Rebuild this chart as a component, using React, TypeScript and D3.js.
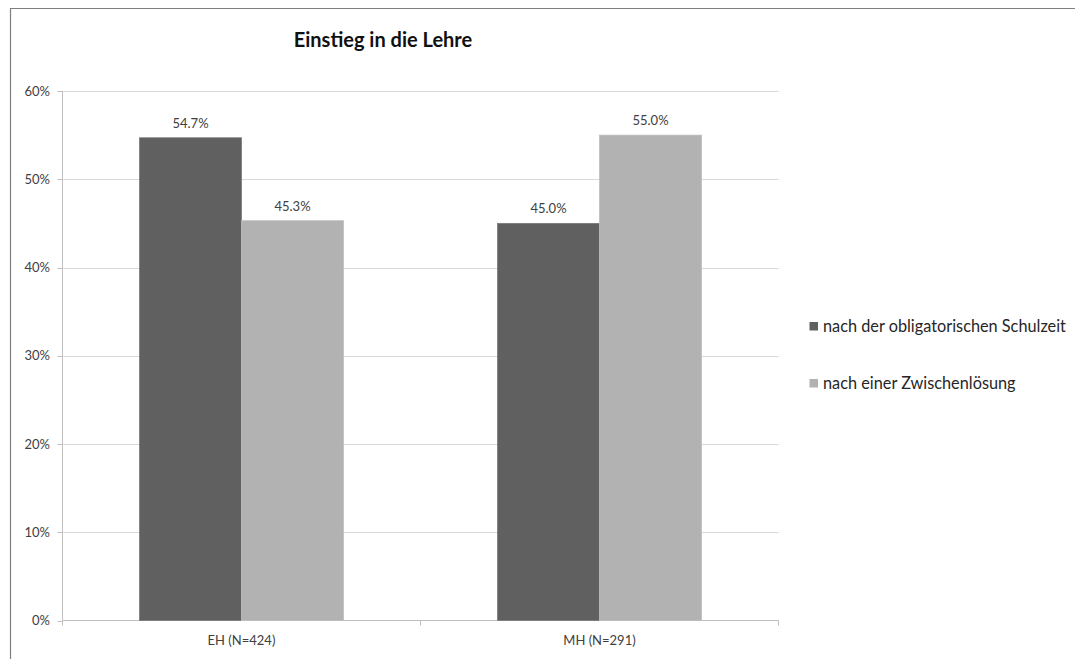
import React from "react";
import * as d3 from "d3";

const categories = ["EH (N=424)", "MH (N=291)"];
const seriesNames = ["nach der obligatorischen Schulzeit", "nach einer Zwischenlösung"];
const obligatorisch = [54.7, 45.0];
const zwischenloesung = [45.3, 55.0];
const yTicks = [0, 10, 20, 30, 40, 50, 60];
const colors = ["#606060", "#b2b2b2"];

export default function App() {
  const W = 1075, H = 659;
  const left = 62.5, right = 778.5, top = 91, bottom = 620.5;
  const x0 = d3.scaleBand<string>().domain(categories).range([left, right]).paddingInner(0).paddingOuter(0);
  const x1 = d3.scaleBand<string>().domain(seriesNames).range([0, x0.bandwidth()]).paddingInner(0).paddingOuter(0.755);
  const y = d3.scaleLinear().domain([0, 60]).range([bottom, top]);
  const series = [obligatorisch, zwischenloesung];
  const font = "Lato, 'Open Sans', sans-serif";

  return (
    <svg width={W} height={H} style={{ position: "absolute", left: 0, top: 0 }} fontFamily={font}>
      <rect x={0} y={0} width={W} height={H} fill="#fff" />
      <path d={`M10.5,${H} V8.5 H${W}`} fill="none" stroke="#7f7f7f" strokeWidth={1.2} />
      <text x={383} y={47} textAnchor="middle" fontSize={20} fontWeight="bold" fill="#111">Einstieg in die Lehre</text>
      {yTicks.map((t) => (
        <g key={t}>
          {t > 0 && <line x1={left} x2={right} y1={Math.round(y(t)) + 0.5} y2={Math.round(y(t)) + 0.5} stroke="#d9d9d9" strokeWidth={1.2} />}
          <line x1={left - 5} x2={left} y1={Math.round(y(t)) + 0.5} y2={Math.round(y(t)) + 0.5} stroke="#bfbfbf" />
          <text x={50} y={y(t) + 4.5} textAnchor="end" fontSize={13} fill="#404040">{t}%</text>
        </g>
      ))}
      <line x1={left} x2={left} y1={top} y2={bottom} stroke="#bfbfbf" />
      <line x1={left} x2={right} y1={bottom} y2={bottom} stroke="#bfbfbf" />
      {[...categories.map((c) => x0(c)!), right].map((v, i) => (
        <line key={i} x1={v} x2={v} y1={bottom} y2={bottom + 5} stroke="#bfbfbf" />
      ))}
      {categories.map((c, ci) => (
        <g key={c}>
          {series.map((s, si) => {
            const bx = x0(c)! + x1(seriesNames[si])!;
            const bw = x1.bandwidth();
            return (
              <g key={si}>
                <rect x={bx} y={y(s[ci])} width={bw} height={bottom - y(s[ci])} fill={colors[si]} stroke={si === 0 ? "#7a7a7a" : "#bdbdbd"} strokeWidth={0.8} />
                <text x={bx + bw / 2} y={y(s[ci]) - 10} textAnchor="middle" fontSize={13} fill="#404040">{s[ci].toFixed(1)}%</text>
              </g>
            );
          })}
          <text x={x0(c)! + x0.bandwidth() / 2} y={645} textAnchor="middle" fontSize={13} fill="#404040">{c}</text>
        </g>
      ))}
      {seriesNames.map((n, i) => (
        <g key={n}>
          <rect x={809.5} y={322} width={8.5} height={8.5} transform={`translate(0, ${i * 57})`} fill={colors[i]} />
          <text x={823} y={332 + i * 57} fontSize={16.3} fill="#262626">{n}</text>
        </g>
      ))}
    </svg>
  );
}
